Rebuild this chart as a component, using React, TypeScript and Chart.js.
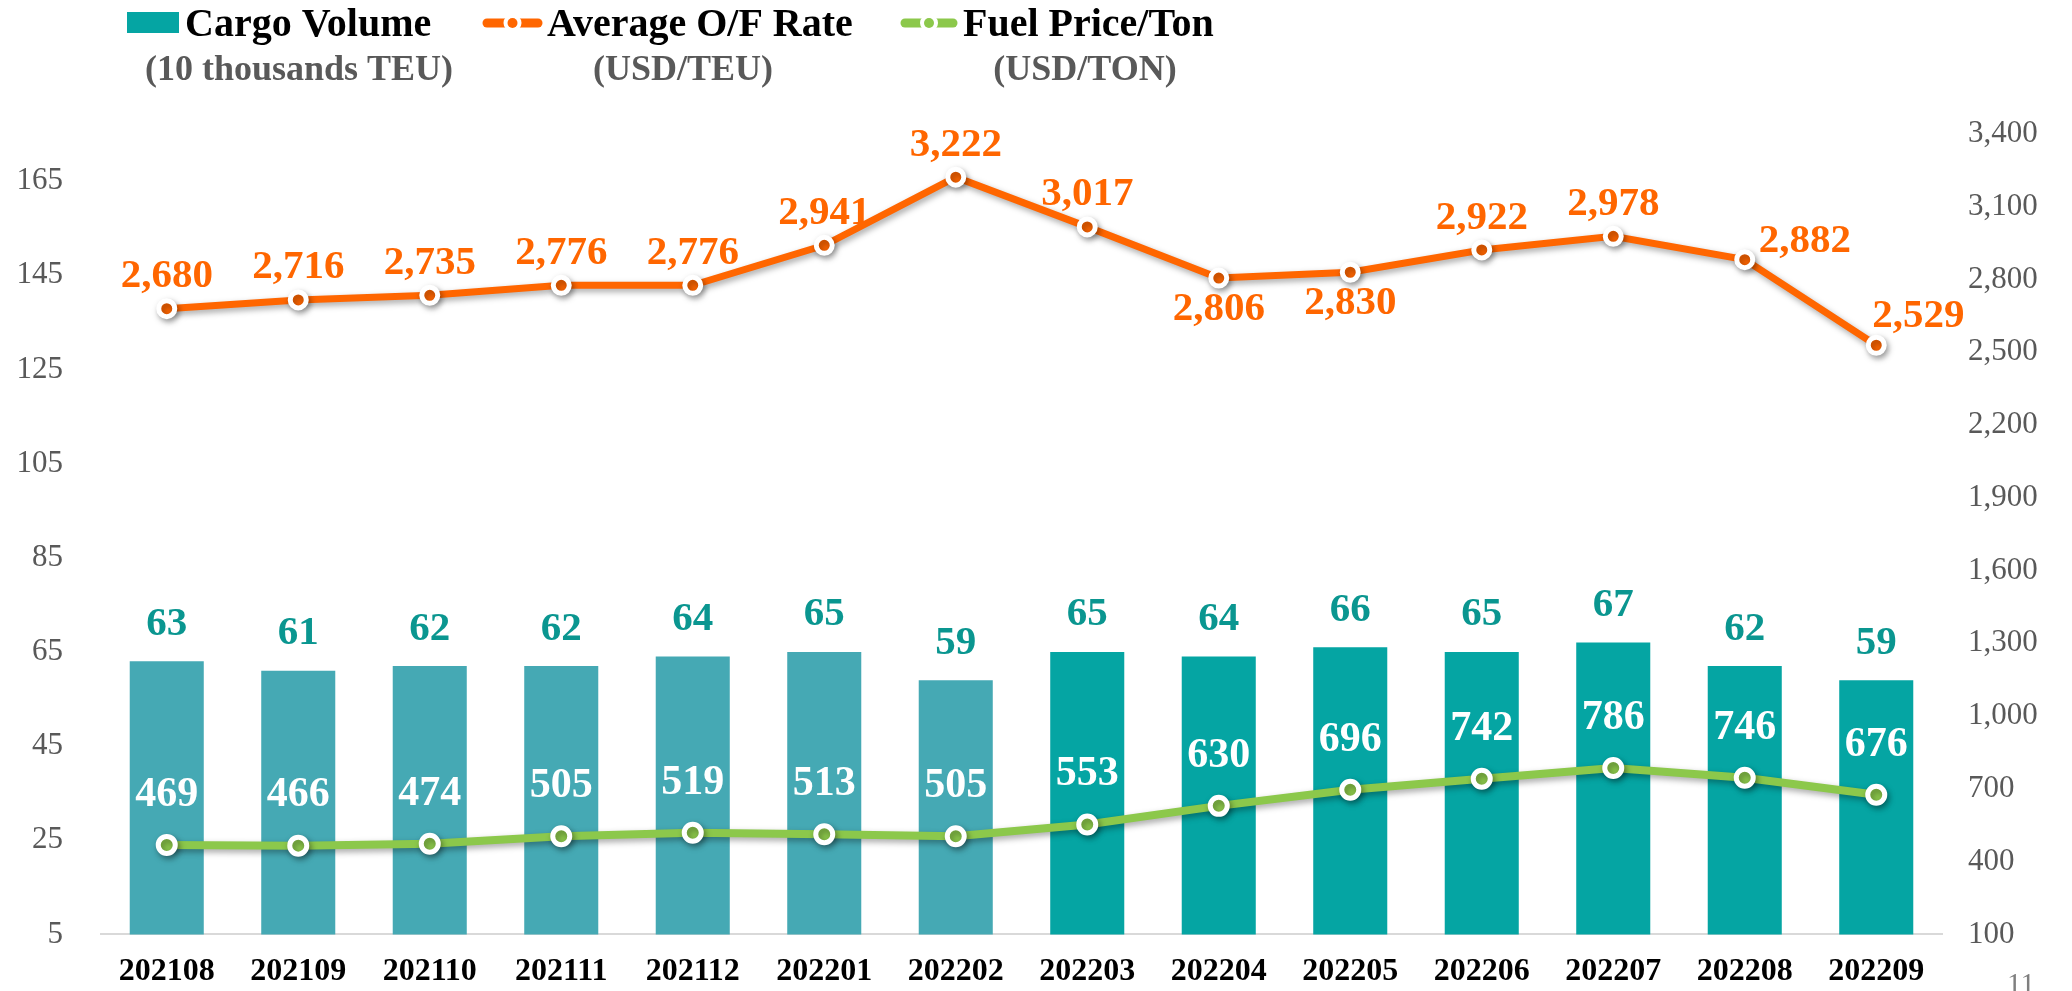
import React, { useEffect, useRef } from 'react';
import { Chart, registerables } from 'chart.js';

Chart.register(...registerables);

const categories = ['202108', '202109', '202110', '202111', '202112', '202201', '202202', '202203', '202204', '202205', '202206', '202207', '202208', '202209'];
const cargoVolume = [63, 61, 62, 62, 64, 65, 59, 65, 64, 66, 65, 67, 62, 59];
const ofRate = [2680, 2716, 2735, 2776, 2776, 2941, 3222, 3017, 2806, 2830, 2922, 2978, 2882, 2529];
const fuelPrice = [469, 466, 474, 505, 519, 513, 505, 553, 630, 696, 742, 786, 746, 676];
const leftTicks = [5, 25, 45, 65, 85, 105, 125, 145, 165];
const rightTicks = [100, 400, 700, 1000, 1300, 1600, 1900, 2200, 2500, 2800, 3100, 3400];

const SERIF = "'Liberation Serif', 'Times New Roman', serif";
const ORANGE = '#FF6600';
const GREEN = '#8CC84B';
const TEAL_OLD = '#45A9B4';
const TEAL_NEW = '#05A5A3';
const LABEL_TEAL = '#0A9690';
const GRAY = '#595959';

const fmt = (v: number) => v.toLocaleString('en-US');

const shadowPlugin = {
  id: 'lineShadow',
  beforeDatasetDraw(chart: any, args: any) {
    if (chart.data.datasets[args.index].type === 'line') {
      const ctx = chart.ctx;
      ctx.save();
      ctx.shadowColor = 'rgba(0,0,0,0.35)';
      ctx.shadowBlur = 6;
      ctx.shadowOffsetX = 2;
      ctx.shadowOffsetY = 3;
    }
  },
  afterDatasetDraw(chart: any, args: any) {
    if (chart.data.datasets[args.index].type === 'line') {
      chart.ctx.restore();
    }
  },
};

const labelsPlugin = {
  id: 'valueLabels',
  afterDatasetsDraw(chart: any) {
    const ctx = chart.ctx;
    ctx.save();
    ctx.font = `bold 41px ${SERIF}`;
    ctx.textBaseline = 'middle';
    // bars
    const barMeta = chart.getDatasetMeta(0);
    barMeta.data.forEach((el: any, i: number) => {
      ctx.fillStyle = LABEL_TEAL;
      ctx.textAlign = 'center';
      ctx.fillText(fmt(cargoVolume[i]), el.x, el.y - 37);
    });
    // O/F rate
    const ofMeta = chart.getDatasetMeta(1);
    ofMeta.data.forEach((el: any, i: number) => {
      ctx.fillStyle = ORANGE;
      const t = fmt(ofRate[i]);
      if (i === 8 || i === 9) {
        ctx.textAlign = 'center';
        ctx.fillText(t, el.x, el.y + 31);
      } else if (i === 12) {
        ctx.textAlign = 'left';
        ctx.fillText(t, el.x + 14, el.y - 18);
      } else if (i === 13) {
        ctx.textAlign = 'center';
        ctx.fillText(t, el.x + 42, el.y - 29);
      } else {
        ctx.textAlign = 'center';
        ctx.fillText(t, el.x, el.y - 32);
      }
    });
    // Fuel
    ctx.font = `bold 42px ${SERIF}`;
    const fMeta = chart.getDatasetMeta(2);
    fMeta.data.forEach((el: any, i: number) => {
      ctx.fillStyle = '#FFFFFF';
      ctx.textAlign = 'center';
      ctx.fillText(fmt(fuelPrice[i]), el.x, el.y - 50);
    });
    ctx.restore();
  },
};

const drawMarker = (ctx: any, x0: number, x1: number, y: number, color: string) => {
  ctx.save();
  ctx.strokeStyle = color;
  ctx.lineWidth = 9;
  ctx.lineCap = 'round';
  ctx.beginPath();
  ctx.moveTo(x0 + 4, y);
  ctx.lineTo(x1 - 4, y);
  ctx.stroke();
  const cx = (x0 + x1) / 2;
  ctx.fillStyle = '#FFFFFF';
  ctx.beginPath();
  ctx.arc(cx, y, 9, 0, Math.PI * 2);
  ctx.fill();
  ctx.fillStyle = color;
  ctx.beginPath();
  ctx.arc(cx, y, 5, 0, Math.PI * 2);
  ctx.fill();
  ctx.restore();
};

const legendPlugin = {
  id: 'customLegend',
  afterDraw(chart: any) {
    const ctx = chart.ctx;
    ctx.save();
    ctx.fillStyle = TEAL_NEW;
    ctx.fillRect(127, 12, 52, 21);
    ctx.textBaseline = 'alphabetic';
    ctx.font = `bold 40px ${SERIF}`;
    ctx.fillStyle = '#000000';
    ctx.textAlign = 'left';
    ctx.fillText('Cargo Volume', 185, 36);
    ctx.fillText('Average O/F Rate', 547, 36);
    ctx.fillText('Fuel Price/Ton', 963, 36);
    drawMarker(ctx, 483, 542, 23, ORANGE);
    drawMarker(ctx, 901, 957, 23, GREEN);
    ctx.font = `bold 36px ${SERIF}`;
    ctx.fillStyle = GRAY;
    ctx.textAlign = 'center';
    ctx.fillText('(10 thousands TEU)', 299, 80);
    ctx.fillText('(USD/TEU)', 683, 80);
    ctx.fillText('(USD/TON)', 1085, 80);
    ctx.font = `29px ${SERIF}`;
    ctx.fillStyle = '#7F7F7F';
    ctx.textAlign = 'left';
    ctx.fillText('11', 2007, 993);
    ctx.restore();
  },
};

export default function App() {
  const ref = useRef<HTMLCanvasElement | null>(null);

  useEffect(() => {
    if (!ref.current) return;
    const tickFont = { family: SERIF, size: 31 };
    const chart = new Chart(ref.current, {
      type: 'bar',
      data: {
        labels: categories,
        datasets: [
          {
            type: 'bar',
            label: 'Cargo Volume',
            data: cargoVolume,
            yAxisID: 'y',
            backgroundColor: cargoVolume.map((_, i) => (i < 7 ? TEAL_OLD : TEAL_NEW)),
            categoryPercentage: 1,
            barPercentage: 0.563,
            order: 3,
          } as any,
          {
            type: 'line',
            label: 'Average O/F Rate',
            data: ofRate,
            yAxisID: 'y1',
            borderColor: ORANGE,
            borderWidth: 7,
            backgroundColor: ORANGE,
            pointRadius: 8,
            pointBorderWidth: 5,
            pointBorderColor: '#FFFFFF',
            pointBackgroundColor: ORANGE,
            tension: 0,
            order: 1,
          } as any,
          {
            type: 'line',
            label: 'Fuel Price/Ton',
            data: fuelPrice,
            yAxisID: 'y1',
            borderColor: GREEN,
            borderWidth: 8,
            backgroundColor: GREEN,
            pointRadius: 8.5,
            pointBorderWidth: 5,
            pointBorderColor: '#FFFFFF',
            pointBackgroundColor: GREEN,
            tension: 0,
            order: 2,
          } as any,
        ],
      },
      options: {
        responsive: false,
        maintainAspectRatio: false,
        animation: false,
        layout: { padding: { top: 134, left: 0, right: 0, bottom: 0 } },
        plugins: {
          legend: { display: false },
          tooltip: { enabled: false },
        },
        scales: {
          x: {
            grid: { display: false, drawTicks: false },
            border: { display: true, color: '#D9D9D9', width: 2 },
            ticks: {
              font: { family: SERIF, size: 32, weight: 'bold' },
              color: '#000000',
              padding: 18,
              maxRotation: 0,
              autoSkip: false,
            },
            afterFit: (s: any) => {
              s.height = 55.3;
            },
          },
          y: {
            position: 'left',
            min: 5,
            max: 175,
            grid: { display: false, drawTicks: false },
            border: { display: false },
            afterBuildTicks: (s: any) => {
              s.ticks = leftTicks.map((v) => ({ value: v }));
            },
            ticks: { font: tickFont, color: GRAY, padding: 38 },
            afterFit: (s: any) => {
              s.width = 101;
            },
          },
          y1: {
            position: 'right',
            min: 100,
            max: 3400,
            grid: { display: false, drawTicks: false },
            border: { display: false },
            afterBuildTicks: (s: any) => {
              s.ticks = rightTicks.map((v) => ({ value: v }));
            },
            ticks: {
              font: tickFont,
              color: GRAY,
              padding: 26,
              callback: (v: any) => fmt(Number(v)),
            },
            afterFit: (s: any) => {
              s.width = 130;
            },
          },
        },
      } as any,
      plugins: [shadowPlugin, labelsPlugin, legendPlugin],
    });
    return () => chart.destroy();
  }, []);

  return (
    <div style={{ position: 'absolute', left: 0, top: 0, width: 2072, height: 991, background: '#FFFFFF' }}>
      <canvas ref={ref} width={2072} height={991} style={{ display: 'block', width: 2072, height: 991 }} />
    </div>
  );
}
